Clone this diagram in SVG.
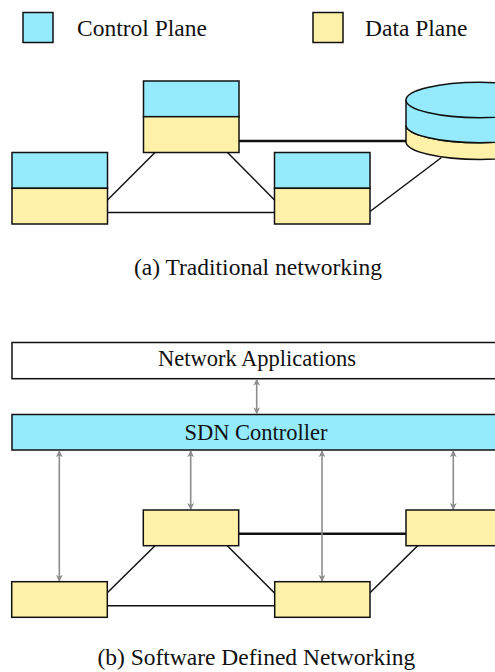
<svg xmlns="http://www.w3.org/2000/svg" width="495" height="672" viewBox="0 0 495 672">
  <style>
    .t { fill: #111; }
    .lbl { font-size: 23.5px; }
    .box { font-size: 22.5px; text-anchor: middle; }
    .cap { font-size: 23.5px; text-anchor: middle; }
    .ctl { fill: #95ebfd; stroke: #111; stroke-width: 1.5; }
    .dat { fill: #fff2a8; stroke: #111; stroke-width: 1.5; }
    .app { fill: #fff; stroke: #111; stroke-width: 1.5; }
    .link { stroke: #111; stroke-width: 1.5; fill: none; }
    .trunk { stroke: #111; stroke-width: 2.5; fill: none; }
    .api { stroke: #8c8c8c; stroke-width: 1.6; fill: none; marker-start: url(#head); marker-end: url(#head); }
  </style>
  <defs>
    <marker id="head" viewBox="0 0 10 10" refX="9" refY="5" markerWidth="7" markerHeight="7" orient="auto-start-reverse" markerUnits="userSpaceOnUse">
      <path d="M0,0 L10,5 L0,10 L3,5 Z" fill="#8c8c8c"/>
    </marker>
  </defs>

  <g font-family="Liberation Serif, Times New Roman, DejaVu Serif, serif">
  <!-- legend -->
  <g id="legend">
    <rect x="23" y="12.5" width="30" height="30" class="ctl"/>
    <text x="77" y="36" class="t lbl">Control Plane</text>
    <rect x="313" y="12.5" width="30" height="30" class="dat"/>
    <text x="365" y="36" class="t lbl">Data Plane</text>
  </g>

  <!-- (a) links -->
  <g id="links-a">
    <line x1="155" y1="152.5" x2="107.5" y2="200" class="link"/>
    <line x1="107.5" y1="212.5" x2="274.5" y2="212.5" class="link"/>
    <line x1="227.5" y1="152.5" x2="274.5" y2="200" class="link"/>
    <line x1="239" y1="141" x2="406" y2="141" class="trunk"/>
    <line x1="370" y1="211.5" x2="441.5" y2="157.5" class="link"/>
  </g>

  <g id="router-a1">
    <rect x="143.5" y="81" width="95.5" height="35.7" class="ctl"/>
    <rect x="143.5" y="116.7" width="95.5" height="35.8" class="dat"/>
  </g>
  <g id="router-a2">
    <rect x="12" y="152.5" width="95.5" height="35.8" class="ctl"/>
    <rect x="12" y="188.3" width="95.5" height="35.7" class="dat"/>
  </g>
  <g id="router-a3">
    <rect x="274.5" y="152.5" width="95.5" height="35.8" class="ctl"/>
    <rect x="274.5" y="188.3" width="95.5" height="35.7" class="dat"/>
  </g>
  <g id="server-a">
    <path d="M406,125 L406,141.7 A74,17.7 0 0 0 554,141.7 L554,125 A74,17.7 0 0 1 406,125 Z" class="dat"/>
    <path d="M406,100 L406,125 A74,17.7 0 0 0 554,125 L554,100 Z" fill="#95ebfd" stroke="none"/>
    <line x1="406" y1="100" x2="406" y2="125" class="link"/>
    <path d="M406,125 A74,17.7 0 0 0 554,125" class="link"/>
    <ellipse cx="480" cy="100" rx="74" ry="17.7" class="ctl"/>
  </g>

  <text x="258" y="275" class="t cap">(a) Traditional networking</text>

  <!-- (b) layers -->
  <g id="apps">
    <rect x="12" y="342.5" width="500" height="36.2" class="app"/>
    <text x="257" y="365.5" class="t box">Network Applications</text>
  </g>
  <g id="controller">
    <rect x="12" y="414.5" width="500" height="35.5" class="ctl"/>
    <text x="256" y="440" class="t box">SDN Controller</text>
  </g>

  <!-- (b) links and control channels -->
  <g id="links-b">
    <line x1="238.7" y1="533.7" x2="406" y2="533.7" class="trunk"/>
    <line x1="155" y1="545.7" x2="107.3" y2="592.7" class="link"/>
    <line x1="227.3" y1="545.7" x2="274.7" y2="593.3" class="link"/>
    <line x1="107.3" y1="605.7" x2="274.7" y2="605.7" class="link"/>
    <line x1="370" y1="592.7" x2="417.7" y2="545.7" class="link"/>
    <line x1="256.7" y1="379.5" x2="256.7" y2="413.5" class="api"/>
    <line x1="59.3" y1="451" x2="59.3" y2="581" class="api"/>
    <line x1="190.7" y1="451" x2="190.7" y2="509.3" class="api"/>
    <line x1="322" y1="451" x2="322" y2="581" class="api"/>
    <line x1="453.3" y1="451" x2="453.3" y2="509.3" class="api"/>
  </g>

  <g id="switch-b1"><rect x="143.3" y="510" width="95.4" height="35.7" class="dat"/></g>
  <g id="switch-b2"><rect x="406" y="510" width="100" height="35.7" class="dat"/></g>
  <g id="switch-b3"><rect x="11.7" y="581.7" width="95.6" height="35.6" class="dat"/></g>
  <g id="switch-b4"><rect x="274.7" y="581.7" width="95.3" height="35.6" class="dat"/></g>

  <text x="256.3" y="665" class="t cap">(b) Software Defined Networking</text>
  </g>
</svg>
